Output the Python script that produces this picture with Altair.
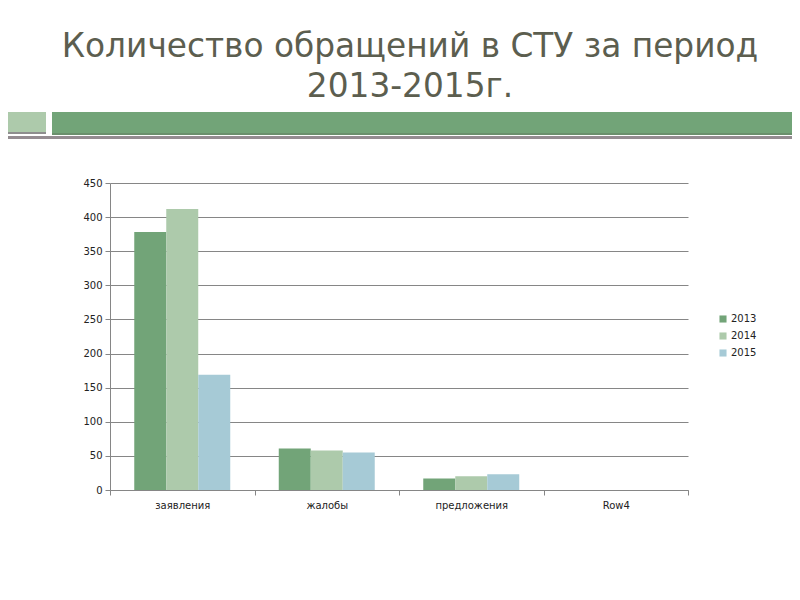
import altair as alt
import pandas as pd

categories = ["заявления", "жалобы", "предложения", "Row4"]
years = ["2013", "2014", "2015"]
v2013 = [378, 61, 17, 0]
v2014 = [412, 58, 20, 0]
v2015 = [169, 55, 23, 0]
colors = ["#72a478", "#adcaab", "#a6cad6"]
title_lines = ["Количество обращений в СТУ за период", "2013-2015г."]

rows = []
for i, c in enumerate(categories):
    for y, vals in zip(years, [v2013, v2014, v2015]):
        rows.append({"cat": c, "year": y, "value": vals[i]})
df = pd.DataFrame(rows)

one = pd.DataFrame({"k": [0]})
FONT = "DejaVu Sans"

def rect(x1, x2, y1, y2, color):
    return alt.Chart(one).mark_rect(color=color).encode(
        x=alt.value(x1), x2=alt.value(x2), y=alt.value(y1), y2=alt.value(y2)
    )

deco = [
    rect(-102, -64, -71, -51, "#adcaab"),
    rect(-102, -64, -51, -49, "#8e8e8e"),
    rect(-58, 682, -71, -49, "#72a478"),
    rect(-58, 682, -50, -48, "#6a8f6c"),
    rect(-102, 682, -47, -44, "#948c91"),
]

title1 = alt.Chart(pd.DataFrame({"t": [title_lines[0]]})).mark_text(
    font=FONT, fontSize=32.8, color="#5c5e4f", align="center", baseline="alphabetic"
).encode(text="t:N", x=alt.value(300), y=alt.value(-126))
title2 = alt.Chart(pd.DataFrame({"t": [title_lines[1]]})).mark_text(
    font=FONT, fontSize=32.8, color="#5c5e4f", align="center", baseline="alphabetic"
).encode(text="t:N", x=alt.value(300), y=alt.value(-86))

bars = alt.Chart(df).mark_bar().encode(
    x=alt.X("cat:N", sort=categories, title=None,
            scale=alt.Scale(paddingInner=0, paddingOuter=0),
            axis=alt.Axis(labelAngle=0, tickBand="extent", tickSize=5,
                          labelPadding=5, labelFontSize=10, labelFont=FONT,
                          labelColor="#222222", domainColor="#868686",
                          tickColor="#868686", grid=False)),
    xOffset=alt.XOffset("year:N", sort=years,
                        scale=alt.Scale(paddingInner=0, paddingOuter=0.758)),
    y=alt.Y("value:Q", title=None,
            scale=alt.Scale(domain=[0, 450], nice=False),
            axis=alt.Axis(values=list(range(0, 451, 50)), tickSize=5,
                          labelPadding=3, labelFontSize=10, labelFont=FONT,
                          labelColor="#222222", domainColor="#868686",
                          tickColor="#868686", gridColor="#868686")),
    color=alt.Color("year:N", sort=years,
                    scale=alt.Scale(domain=years, range=colors),
                    legend=alt.Legend(title=None, orient="none", legendX=608,
                                      legendY=131, symbolType="square",
                                      symbolSize=50, symbolStrokeWidth=0,
                                      labelOffset=3,
                                      labelFontSize=10, labelFont=FONT,
                                      labelColor="#222222", rowPadding=7)),
)

chart = alt.layer(*deco, title1, title2, bars).properties(
    width=578, height=307, autosize="none",
    padding={"left": 102, "top": 175, "right": 104, "bottom": 94},
).configure_view(stroke=None)

chart.save("out.html", embed_options={"renderer": "svg", "actions": False})
